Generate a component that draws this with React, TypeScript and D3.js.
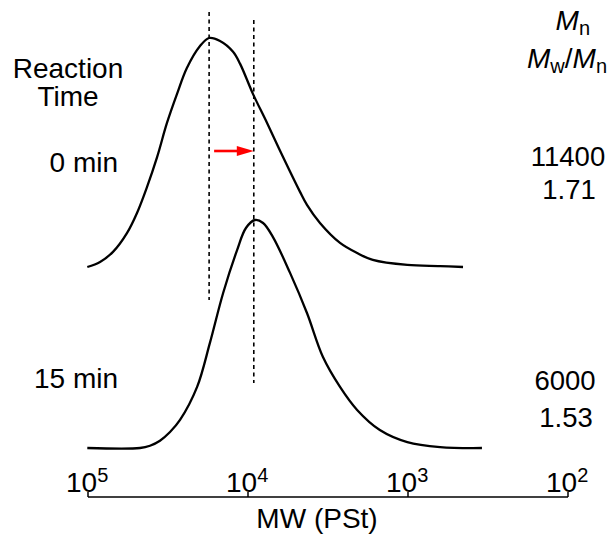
import React from 'react';
import * as d3 from 'd3';

// GPC traces: molecular weight (PSt equiv.) and normalised RI response
const mw0 = [101000, 84100, 69800, 57100, 49400, 42800, 37000, 32100, 27800, 24100, 19950, 17500,
  14960, 12400, 11200, 9300, 7600, 6040, 4730, 4280, 3550, 2660, 2080, 1660, 1010, 630, 453];
const signal0 = [0, 0.022, 0.066, 0.148, 0.236, 0.349, 0.48, 0.629, 0.755, 0.869, 0.965, 1.0,
  0.987, 0.94, 0.887, 0.755, 0.629, 0.48, 0.328, 0.271, 0.192, 0.105, 0.061, 0.031, 0.009, 0.004, 0];

const mw15 = [101000, 47300, 40980, 35500, 30720, 26600, 20800, 17300, 14300, 11700, 10300, 9040, 8050, 6980,
  5460, 4280, 3400, 2660, 2080, 1500, 1010, 630, 345];
const signal15 = [0, 0, 0.01, 0.032, 0.07, 0.123, 0.268, 0.461, 0.68, 0.868, 0.965, 1.0, 0.987, 0.925,
  0.768, 0.592, 0.399, 0.268, 0.167, 0.079, 0.026, 0.004, 0];

const peakMW = [17500, 9200];
const tickPowers = [5, 4, 3, 2];
const timeLabels = ['0 min', '15 min'];
const mnValues = ['11400', '6000'];
const dispersity = ['1.71', '1.53'];

const FONT = '"Liberation Sans", Arial, Helvetica, sans-serif';

export default function App() {
  const width = 609;
  const height = 535;
  const axisY = 497;

  const x = d3.scaleLog().domain([1e5, 1e2]).range([88, 568]);
  const yTop = d3.scaleLinear().domain([0, 1]).range([267, 38]);
  const yBot = d3.scaleLinear().domain([0, 1]).range([448, 220]);

  const line = (ys: d3.ScaleLinear<number, number>) =>
    d3.line<[number, number]>()
      .x(d => x(d[0]))
      .y(d => ys(d[1]))
      .curve(d3.curveCatmullRom.alpha(0.5));

  const trace0 = line(yTop)(mw0.map((m, i) => [m, signal0[i]]));
  const trace15 = line(yBot)(mw15.map((m, i) => [m, signal15[i]]));

  const xa = x(peakMW[0]);
  const xb = x(peakMW[1]);
  const arrowY = 151;

  return (
    <svg width={width} height={height} style={{ position: 'absolute', left: 0, top: 0 }}
      fontFamily={FONT} fill="#000">
      <rect width={width} height={height} fill="#fff" />

      {/* peak guides */}
      <line x1={xa} x2={xa} y1={12} y2={300} stroke="#000" strokeWidth={1.6} strokeDasharray="4,3.5" />
      <line x1={xb} x2={xb} y1={20} y2={383} stroke="#000" strokeWidth={1.6} strokeDasharray="4,3.5" />

      {/* shift arrow */}
      <line x1={xa + 5} x2={xb - 14} y1={arrowY} y2={arrowY} stroke="#f00" strokeWidth={2.6} />
      <path d={`M${xb},${arrowY} L${xb - 17},${arrowY - 5} L${xb - 17},${arrowY + 5} Z`} fill="#f00" />

      <path d={trace0 ?? ''} fill="none" stroke="#000" strokeWidth={2.3} />
      <path d={trace15 ?? ''} fill="none" stroke="#000" strokeWidth={2.3} />

      {/* axis */}
      <line x1={x(1e5)} x2={x(1e2)} y1={axisY} y2={axisY} stroke="#000" strokeWidth={1.5} />
      {tickPowers.map(p => (
        <g key={p}>
          <line x1={x(10 ** p)} x2={x(10 ** p)} y1={axisY} y2={axisY - 5} stroke="#000" strokeWidth={1.5} />
          <text x={x(10 ** p) - 22} y={492} fontSize={28}>
            10<tspan dy={-10} fontSize={20}>{p}</tspan>
          </text>
        </g>
      ))}
      <text x={317} y={528} fontSize={28} textAnchor="middle">MW (PSt)</text>

      {/* left labels */}
      <text x={68} y={78} fontSize={28} textAnchor="middle">Reaction</text>
      <text x={68} y={106} fontSize={28} textAnchor="middle">Time</text>
      <text x={118} y={172} fontSize={28} textAnchor="end">{timeLabels[0]}</text>
      <text x={118} y={388} fontSize={28} textAnchor="end">{timeLabels[1]}</text>

      {/* right labels */}
      <text x={590} y={30} fontSize={28} textAnchor="end">
        <tspan fontStyle="italic">M</tspan><tspan fontSize={20} dy={5}>n</tspan>
      </text>
      <text x={607} y={68} fontSize={28} textAnchor="end">
        <tspan fontStyle="italic">M</tspan><tspan fontSize={20} dy={5}>w</tspan>
        <tspan dy={-5}>/</tspan><tspan fontStyle="italic">M</tspan><tspan fontSize={20} dy={5}>n</tspan>
      </text>
      <text x={568} y={166} fontSize={27.5} textAnchor="middle">{mnValues[0]}</text>
      <text x={569} y={199} fontSize={27.5} textAnchor="middle">{dispersity[0]}</text>
      <text x={565} y={390} fontSize={27.5} textAnchor="middle">{mnValues[1]}</text>
      <text x={566} y={427} fontSize={27.5} textAnchor="middle">{dispersity[1]}</text>
    </svg>
  );
}
